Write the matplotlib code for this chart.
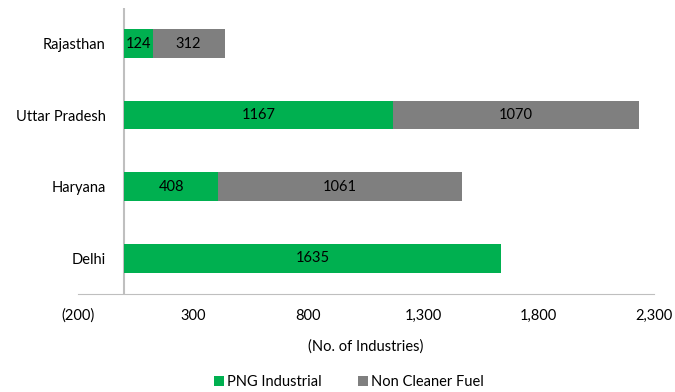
import matplotlib
matplotlib.use("Agg")
from matplotlib import pyplot as plt
from matplotlib.ticker import FuncFormatter

states = ["Delhi", "Haryana", "Uttar Pradesh", "Rajasthan"]
png = [1635, 408, 1167, 124]
non_clean = [0, 1061, 1070, 312]
ticks = [-200, 300, 800, 1300, 1800, 2300]

green = "#00B050"
grey = "#7F7F7F"

plt.rcParams["font.family"] = ["Lato", "DejaVu Sans"]

fig = plt.figure(figsize=(6.75, 3.92), dpi=100)
ax = fig.add_axes([0.1156, 0.25, 0.853, 0.73])

y = range(len(states))
b1 = ax.barh(y, png, height=0.4, color=green, label="PNG Industrial")
b2 = ax.barh(y, non_clean, left=png, height=0.4, color=grey, label="Non Cleaner Fuel")

for bars, vals in [(b1, png), (b2, non_clean)]:
    for r, v in zip(bars, vals):
        if v == 0:
            continue
        ax.text(r.get_x() + r.get_width() / 2, r.get_y() + r.get_height() / 2, str(v),
                ha="center", va="center", fontsize=10.5, color="black")

ax.set_xlim(-200, 2300)
ax.set_ylim(-0.5, 3.5)
ax.set_xticks(ticks)
ax.xaxis.set_major_formatter(FuncFormatter(lambda v, p: "({:,.0f})".format(-v) if v < 0 else "{:,.0f}".format(v)))
ax.set_yticks(list(y))
ax.set_yticklabels(states)
ax.tick_params(axis="both", length=0, labelsize=10.5, colors="black")
ax.tick_params(axis="x", pad=10.5)
ax.tick_params(axis="y", pad=-20)

for s in ["top", "right", "left"]:
    ax.spines[s].set_visible(False)
ax.spines["bottom"].set_color("#BFBFBF")
ax.axvline(0, color="#BFBFBF", lw=1.5, zorder=0)

ax.set_xlabel("(No. of Industries)", fontsize=10.5, labelpad=12)

ax.legend(loc="center", bbox_to_anchor=(0.47, -0.307), ncol=2, frameon=False,
          fontsize=10.5, handlelength=0.7, handleheight=0.7, handletextpad=0.2,
          columnspacing=2.5)

fig.savefig("out.png", dpi=100)
